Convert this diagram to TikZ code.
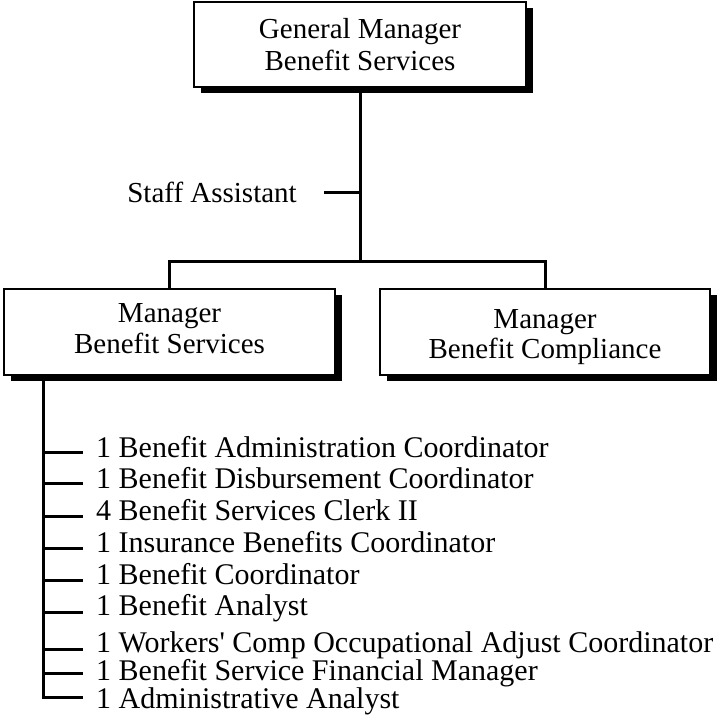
\documentclass[tikz,border=0pt]{standalone}
\usepackage{fontspec}
\setmainfont{Liberation Serif}
\usetikzlibrary{shadows}
\begin{document}
\begin{tikzpicture}[x=1pt,y=-1pt,
  box/.style={draw=black, line width=1.5pt, fill=white, align=center,
    font=\fontsize{29}{31}\selectfont, inner sep=0pt,
    drop shadow={shadow xshift=7pt, shadow yshift=-6pt, fill=black, opacity=1}},
  conn/.style={line width=3pt},
  item/.style={font=\fontsize{30}{31}\selectfont, inner xsep=13pt, inner ysep=0pt, anchor=base west},
  lbl/.style={font=\fontsize{29}{31}\selectfont, inner sep=0pt}]
\useasboundingbox (0,0) rectangle (718,716);
% boxes
\node[box, font=\fontsize{29}{32}\selectfont, minimum width=332pt, minimum height=85pt] (gm) at (360,44.5) {General Manager\\Benefit Services};
\node[box, minimum width=331pt, minimum height=86pt] (mbs) at (169.5,332) {Manager\\Benefit Services\rule[-8pt]{0pt}{8pt}};
\node[box, font=\fontsize{29}{30}\selectfont, minimum width=330pt, minimum height=86pt] (mbc) at (545,332) {\rule{0pt}{29pt}Manager\\Benefit Compliance};
% staff assistant
\node[lbl, anchor=base east] (sa) at (297,202) {Staff Assistant};
\coordinate (sat) at (324,192);
\coordinate (bus) at (360,261);
\draw[conn] (gm.south) -- (gm.south |- bus);
\draw[conn] (sat) -- (sat -| gm.south);
\draw[conn] (mbs.north) |- (bus) -| (mbc.north);
% list (base line, then lift of the tick above it)
\node[item] (i1) at (83,457) {1 Benefit Administration Coordinator};
\node[item] (i2) at (83,488) {1 Benefit Disbursement Coordinator};
\node[item] (i3) at (83,520) {4 Benefit Services Clerk II};
\node[item] (i4) at (83,552) {1 Insurance Benefits Coordinator};
\node[item] (i5) at (83,584) {1 Benefit Coordinator};
\node[item] (i6) at (83,615) {1 Benefit Analyst};
\node[item] (i7) at (83,652) {1 Workers\textquotesingle{} Comp Occupational Adjust Coordinator};
\node[item] (i8) at (83,680) {1 Benefit Service Financial Manager};
\node[item] (i9) at (83,708) {1 Administrative Analyst};
\coordinate (spine) at ([xshift=40pt]mbs.south west);
\draw[conn] (spine) |- ([yshift=11pt]i9.base west);
\foreach \i/\d in {1/5,2/5,3/4,4/4,5/4,6/3,7/3,8/7}
  \draw[conn] ([yshift=\d pt]i\i.base west -| spine) -- ([yshift=\d pt]i\i.base west);
\end{tikzpicture}
\end{document}
